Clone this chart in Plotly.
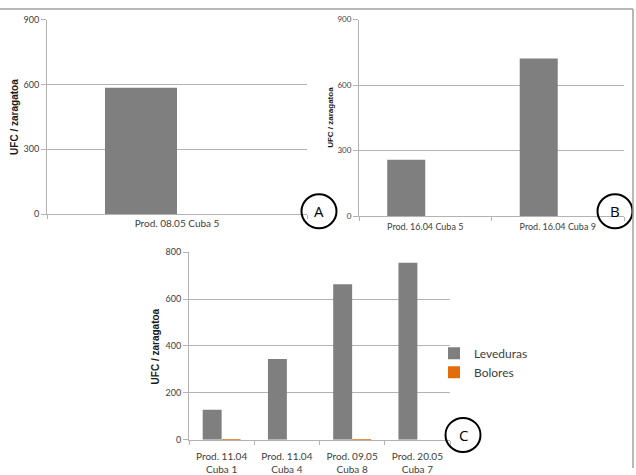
import plotly.graph_objects as go

W, H = 636, 475

# ---------------- data ----------------
cats_a = ["Prod. 08.05 Cuba 5"]
lev_a = [585]
bol_a = [0]

cats_b = ["Prod. 16.04 Cuba 5", "Prod. 16.04 Cuba 9"]
lev_b = [258, 722]
bol_b = [0, 0]

cats_c = ["Prod. 11.04<br>Cuba 1", "Prod. 11.04<br>Cuba 4",
          "Prod. 09.05<br>Cuba 8", "Prod. 20.05<br>Cuba 7"]
lev_c = [128, 344, 663, 754]
bol_c = [3, 0, 3, 0]

series_names = ["Leveduras", "Bolores"]
y_title = "UFC / zaragatoa"
panel_labels = ["A", "B", "C"]

GREY = "#7f7f7f"
ORANGE = "#e46c0a"
GRID = "#b3b3b3"
TXT = "#404040"
FONT = "Lato, 'Liberation Sans', Arial, sans-serif"


def px_x(x):
    return x / W


def px_y(y):
    return 1 - y / H


fig = go.Figure()

panels = [
    ("x", "y", cats_a, lev_a, bol_a, 0.277, False),
    ("x2", "y2", cats_b, lev_b, bol_b, 0.287, False),
    ("x3", "y3", cats_c, lev_c, bol_c, 0.29, True),
]
for xa, ya, cats, lev, bol, w, show in panels:
    fig.add_trace(go.Bar(x=cats, y=lev, name=series_names[0], marker_color=GREY,
                         marker_line_width=0, width=w, offset=-w,
                         xaxis=xa, yaxis=ya, showlegend=show))
    fig.add_trace(go.Bar(x=cats, y=bol, name=series_names[1], marker_color=ORANGE,
                         marker_line_width=0, width=w, offset=0,
                         xaxis=xa, yaxis=ya, showlegend=show))

common_x = dict(type="category", showline=True, linecolor=GRID, linewidth=1,
                ticks="outside", tickson="boundaries", ticklen=4, tickcolor=GRID,
                showgrid=False, zeroline=False, fixedrange=True)
common_y = dict(showline=True, linecolor=GRID, linewidth=1, ticks="outside",
                ticklen=5, tickcolor=GRID, showgrid=True, gridcolor=GRID,
                gridwidth=1, zeroline=False)

fig.update_layout(
    width=W, height=H, margin=dict(l=0, r=0, t=0, b=0),
    paper_bgcolor="white", plot_bgcolor="white",
    barmode="group",
    font=dict(family=FONT, color=TXT),
    xaxis=dict(common_x, domain=[px_x(47), px_x(307)], anchor="y",
               tickfont=dict(size=10, color=TXT)),
    yaxis=dict(common_y, domain=[px_y(214), px_y(14)], anchor="x",
               range=[0, 900], tickvals=[0, 300, 600, 900],
               tickfont=dict(size=9, color=TXT)),
    xaxis2=dict(common_x, domain=[px_x(359), px_x(624)], anchor="y2",
                tickfont=dict(size=9, color=TXT), ticklabelstandoff=2),
    yaxis2=dict(common_y, domain=[px_y(216), px_y(14)], anchor="x2",
                range=[0, 900], tickvals=[0, 300, 600, 900],
                tickfont=dict(size=8, color=TXT)),
    xaxis3=dict(common_x, domain=[px_x(189), px_x(450)], anchor="y3",
                tickfont=dict(size=10, color=TXT), ticklabelstandoff=7),
    yaxis3=dict(common_y, domain=[px_y(446), px_y(253)], anchor="x3",
                range=[0, 800], tickvals=[0, 200, 400, 600, 800],
                tickfont=dict(size=9, color=TXT)),
    legend=dict(x=px_x(434), y=px_y(342), xanchor="left", yanchor="top",
                font=dict(size=12, color=TXT), bgcolor="rgba(0,0,0,0)",
                tracegroupgap=0, itemwidth=30),
)

# y-axis titles
for x, yc, size in [(15, 114, 10), (331, 115, 8), (155, 350, 10)]:
    fig.add_annotation(text="<b>" + y_title + "</b>", x=px_x(x), y=px_y(yc),
                       xref="paper", yref="paper", textangle=-90,
                       xanchor="center", yanchor="middle",
                       showarrow=False, font=dict(size=size, color="#1a1a1a",
                                                  family="'Liberation Sans', Arial, sans-serif"))

# panel labels in circles
for (cx, cy), lab in zip([(319, 211), (615, 211), (463, 441)], panel_labels):
    r = 17.5
    fig.add_shape(type="circle", xref="paper", yref="paper",
                  x0=px_x(cx - r), x1=px_x(cx + r), y0=px_y(cy + r), y1=px_y(cy - r),
                  line=dict(color="black", width=2), fillcolor="rgba(0,0,0,0)")
    fig.add_annotation(text=lab, x=px_x(cx), y=px_y(cy), xref="paper", yref="paper",
                       xanchor="center", yanchor="middle", showarrow=False,
                       font=dict(size=15, color="black",
                                 family="'Open Sans', 'Liberation Sans', sans-serif"))

# outer frame lines (top and right)
fig.add_shape(type="line", xref="paper", yref="paper", x0=0, x1=px_x(633),
              y0=px_y(3), y1=px_y(3), line=dict(color="#a0a0a0", width=1.5))
fig.add_shape(type="line", xref="paper", yref="paper", x0=px_x(633), x1=px_x(633),
              y0=px_y(3), y1=0, line=dict(color="#a0a0a0", width=1.5))

fig.write_html("out.html", config={"displayModeBar": False},
               post_script="document.body.style.margin='0';document.body.style.overflow='hidden';")
